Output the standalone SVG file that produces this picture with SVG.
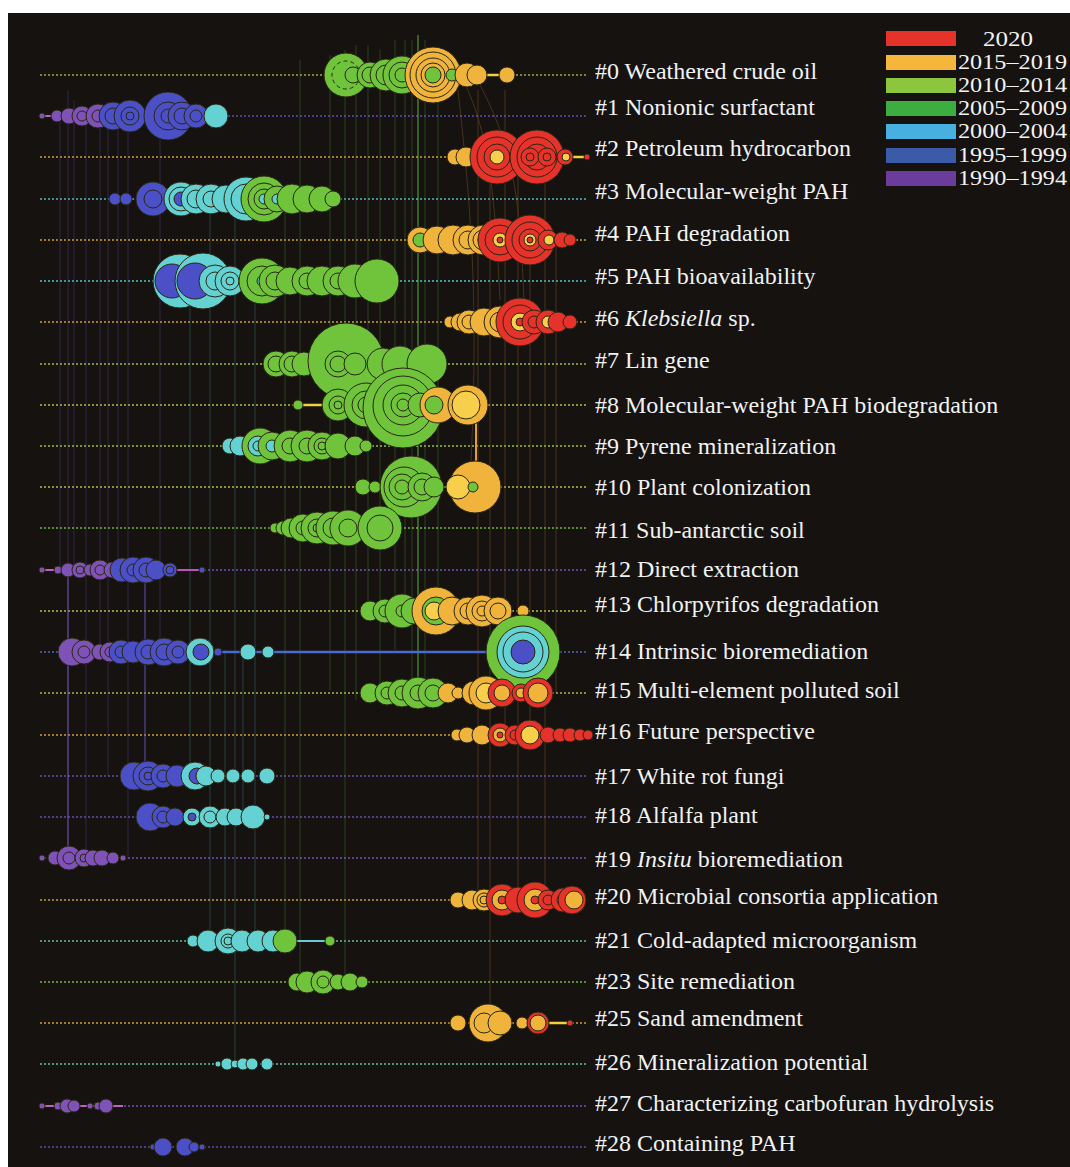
<svg xmlns="http://www.w3.org/2000/svg" width="1070" height="1167" viewBox="0 0 1070 1167">
<style>
circle{stroke:#2a2612;stroke-width:1}
.P{fill:#7e52b6}.B{fill:#4b50c6}.C{fill:#64d2d2}.G{fill:#6fc43c}.O{fill:#f0b43c}.Y{fill:#f8cf4a}.R{fill:#e5322a}
.k{fill:none}
.tl{fill:none;stroke-width:1.3;stroke-dasharray:2 2}
.lab{font-family:"Liberation Serif","Times New Roman",serif;font-size:24px;fill:#f2f2f2}
.leg{font-family:"Liberation Serif","Times New Roman",serif;font-size:20.5px;fill:#f2f2f2}
.vl{fill:none;stroke-width:1}
.it{font-style:italic}
</style>
<rect x="0" y="0" width="1070" height="1167" fill="#ffffff"/>
<rect x="8" y="13" width="1062" height="1154" fill="#151210"/>

<g id="timelines">
<line class="tl" x1="40" y1="75" x2="588" y2="75" stroke="#9aa84a"/>
<line class="tl" x1="40" y1="116" x2="588" y2="116" stroke="#5b4fb5"/>
<line class="tl" x1="40" y1="157" x2="588" y2="157" stroke="#d0a030"/>
<line class="tl" x1="40" y1="199" x2="588" y2="199" stroke="#4fb8c0"/>
<line class="tl" x1="40" y1="240" x2="588" y2="240" stroke="#d0a030"/>
<line class="tl" x1="40" y1="281" x2="588" y2="281" stroke="#4fc0d0"/>
<line class="tl" x1="40" y1="322" x2="588" y2="322" stroke="#d0a030"/>
<line class="tl" x1="40" y1="364" x2="588" y2="364" stroke="#9cc040"/>
<line class="tl" x1="40" y1="405" x2="588" y2="405" stroke="#b0c040"/>
<line class="tl" x1="40" y1="446" x2="588" y2="446" stroke="#9cc040"/>
<line class="tl" x1="40" y1="487" x2="588" y2="487" stroke="#b0c040"/>
<line class="tl" x1="40" y1="528" x2="588" y2="528" stroke="#6fb840"/>
<line class="tl" x1="40" y1="570" x2="588" y2="570" stroke="#7050b0"/>
<line class="tl" x1="40" y1="611" x2="588" y2="611" stroke="#b0c040"/>
<line class="tl" x1="40" y1="652" x2="588" y2="652" stroke="#5060c0"/>
<line class="tl" x1="40" y1="693" x2="588" y2="693" stroke="#a0c040"/>
<line class="tl" x1="40" y1="735" x2="588" y2="735" stroke="#d0a030"/>
<line class="tl" x1="40" y1="776" x2="588" y2="776" stroke="#6050b0"/>
<line class="tl" x1="40" y1="817" x2="588" y2="817" stroke="#6050b0"/>
<line class="tl" x1="40" y1="858" x2="588" y2="858" stroke="#7050b0"/>
<line class="tl" x1="40" y1="900" x2="588" y2="900" stroke="#c0a040"/>
<line class="tl" x1="40" y1="941" x2="588" y2="941" stroke="#60b8a0"/>
<line class="tl" x1="40" y1="982" x2="588" y2="982" stroke="#70b840"/>
<line class="tl" x1="40" y1="1023" x2="588" y2="1023" stroke="#d0a030"/>
<line class="tl" x1="40" y1="1064" x2="588" y2="1064" stroke="#60c0b0"/>
<line class="tl" x1="40" y1="1106" x2="588" y2="1106" stroke="#7050b0"/>
<line class="tl" x1="40" y1="1147" x2="588" y2="1147" stroke="#5050b0"/>
</g>

<g id="connectors">
<g stroke="#6a4aa8" class="vl" opacity="0.35">
<line x1="68" y1="90" x2="68" y2="858"/>
<line x1="74" y1="100" x2="74" y2="570"/>
<line x1="100" y1="110" x2="100" y2="652"/>
<line x1="118" y1="110" x2="118" y2="570"/>
<line x1="128" y1="120" x2="128" y2="860"/>
<line x1="86" y1="116" x2="86" y2="858"/>
<line x1="160" y1="130" x2="160" y2="652"/>
<line x1="60" y1="116" x2="60" y2="570"/>
<line x1="108" y1="116" x2="108" y2="776"/>
</g>
<line x1="145" y1="570" x2="145" y2="776" stroke="#6a5ac8" stroke-width="1.5" opacity="0.6"/>
<line x1="68" y1="570" x2="68" y2="858" stroke="#7a5ac0" stroke-width="1.5" opacity="0.6"/>
<g stroke="#4fa8b0" class="vl" opacity="0.3">
<line x1="210" y1="199" x2="210" y2="941"/>
<line x1="225" y1="650" x2="225" y2="941"/>
<line x1="243" y1="650" x2="243" y2="817"/>
<line x1="190" y1="281" x2="190" y2="776"/>
<line x1="255" y1="281" x2="255" y2="941"/>
<line x1="235" y1="199" x2="235" y2="1064"/>
</g>
<g stroke="#5a9a3a" class="vl" opacity="0.35">
<line x1="300" y1="60" x2="300" y2="982"/>
<line x1="330" y1="55" x2="330" y2="690"/>
<line x1="356" y1="45" x2="356" y2="700"/>
<line x1="368" y1="45" x2="368" y2="611"/>
<line x1="380" y1="50" x2="380" y2="693"/>
<line x1="395" y1="40" x2="395" y2="650"/>
<line x1="405" y1="40" x2="405" y2="611"/>
<line x1="425" y1="40" x2="425" y2="693"/>
<line x1="438" y1="50" x2="438" y2="611"/>
<line x1="285" y1="200" x2="285" y2="941"/>
<line x1="412" y1="40" x2="412" y2="690"/>
<line x1="345" y1="50" x2="345" y2="982"/>
</g>
<line x1="418" y1="35" x2="418" y2="700" stroke="#6ac040" stroke-width="1.5" opacity="0.6"/>
<g stroke="#a07030" class="vl" opacity="0.35">
<line x1="478" y1="90" x2="478" y2="900"/>
<line x1="490" y1="160" x2="490" y2="1023"/>
<line x1="505" y1="90" x2="505" y2="735"/>
<line x1="518" y1="160" x2="518" y2="900"/>
<line x1="530" y1="240" x2="530" y2="735"/>
<line x1="545" y1="160" x2="545" y2="900"/>
<line x1="556" y1="240" x2="556" y2="693"/>
<path d="M467 88 C490 140 495 200 500 300"/>
<path d="M480 85 C520 160 520 220 525 320"/>
<path d="M458 90 C470 200 480 300 470 480"/>
</g>
<line x1="476" y1="423" x2="476" y2="487" stroke="#e0a030" stroke-width="2"/>
<line x1="477" y1="75" x2="507" y2="75" stroke="#f3d040" stroke-width="2.5"/>
<line x1="570" y1="157" x2="587" y2="157" stroke="#f3d040" stroke-width="2.5"/>
<line x1="298" y1="405" x2="328" y2="405" stroke="#f3d040" stroke-width="2.5"/>
<line x1="42" y1="116" x2="56" y2="116" stroke="#c060c0" stroke-width="2"/>
<line x1="42" y1="570" x2="60" y2="570" stroke="#c060c0" stroke-width="2"/>
<line x1="176" y1="570" x2="202" y2="570" stroke="#c050c0" stroke-width="2"/>
<line x1="218" y1="652" x2="490" y2="652" stroke="#4b6ad0" stroke-width="2.5"/>
<line x1="290" y1="941" x2="330" y2="941" stroke="#6cc8d8" stroke-width="2"/>
<line x1="540" y1="1023" x2="570" y2="1023" stroke="#f3d040" stroke-width="2.5"/>
<line x1="42" y1="1106" x2="123" y2="1106" stroke="#c060c0" stroke-width="2"/>
</g>

<g id="n7" transform="translate(0,364)">
<circle class="G" cx="276" cy="0" r="13"/><circle class="k" cx="276" cy="0" r="8"/>
<circle class="G" cx="292" cy="0" r="13"/><circle class="k" cx="292" cy="0" r="8"/>
<circle class="G" cx="304" cy="0" r="12"/>
<circle class="G" cx="346" cy="-3" r="38"/>
<circle class="G" cx="338" cy="0" r="13"/><circle class="k" cx="338" cy="0" r="8"/>
<circle class="G" cx="355" cy="0" r="11"/>
<circle class="G" cx="383" cy="0" r="16"/>
<circle class="G" cx="400" cy="0" r="18"/>
<circle class="G" cx="427" cy="0" r="20"/>
</g>

<g id="n0" transform="translate(0,75)">
<circle class="G" cx="346" cy="0" r="22"/><circle class="k" cx="346" cy="0" r="14" stroke-dasharray="4 3"/>
<circle class="G" cx="353" cy="0" r="8"/>
<circle class="G" cx="370" cy="0" r="13"/><circle class="k" cx="370" cy="0" r="8"/>
<circle class="G" cx="386" cy="0" r="16"/><circle class="k" cx="386" cy="0" r="10"/>
<circle class="G" cx="402" cy="0" r="19"/><circle class="k" cx="402" cy="0" r="13"/><circle class="k" cx="402" cy="0" r="7"/>
<circle class="O" cx="433" cy="0" r="28"/><circle class="k" cx="433" cy="0" r="23"/><circle class="k" cx="433" cy="0" r="17"/><circle class="k" cx="433" cy="0" r="12"/><circle class="G" cx="433" cy="0" r="8"/>
<circle class="G" cx="452" cy="0" r="6"/>
<circle class="O" cx="467" cy="0" r="12"/>
<circle class="O" cx="477" cy="0" r="10"/>
<circle class="O" cx="507" cy="0" r="8"/>
</g>

<g id="n1" transform="translate(0,116)">
<circle class="P" cx="42" cy="0" r="3"/>
<circle class="P" cx="57" cy="0" r="6"/>
<circle class="P" cx="69" cy="0" r="8"/>
<circle class="P" cx="82" cy="0" r="10"/><circle class="k" cx="82" cy="0" r="5"/>
<circle class="P" cx="98" cy="0" r="12"/><circle class="k" cx="98" cy="0" r="6" stroke="#d060c0"/>
<circle class="B" cx="113" cy="0" r="14"/><circle class="k" cx="113" cy="0" r="8"/>
<circle class="B" cx="130" cy="0" r="16"/><circle class="k" cx="130" cy="0" r="9"/><circle class="k" cx="130" cy="0" r="4"/>
<circle class="B" cx="168" cy="0" r="24"/><circle class="k" cx="168" cy="0" r="14"/><circle class="k" cx="168" cy="0" r="7"/>
<circle class="B" cx="182" cy="0" r="14"/><circle class="k" cx="182" cy="0" r="8"/>
<circle class="B" cx="196" cy="0" r="12"/><circle class="k" cx="196" cy="0" r="6"/>
<circle class="C" cx="216" cy="0" r="12"/>
</g>

<g id="n2" transform="translate(0,157)">
<circle class="O" cx="455" cy="0" r="8"/>
<circle class="O" cx="466" cy="0" r="10"/>
<circle class="R" cx="497" cy="0" r="27"/><circle class="k" cx="497" cy="0" r="20"/><circle class="k" cx="497" cy="0" r="13"/><circle class="Y" cx="497" cy="0" r="7"/>
<circle class="R" cx="537" cy="0" r="27"/><circle class="k" cx="537" cy="0" r="20"/><circle class="k" cx="537" cy="0" r="13"/>
<circle class="R" cx="530" cy="0" r="9"/><circle class="k" cx="530" cy="0" r="4"/>
<circle class="R" cx="547" cy="0" r="9"/><circle class="k" cx="547" cy="0" r="4"/>
<circle class="R" cx="565" cy="0" r="8"/><circle class="Y" cx="566" cy="0" r="4"/>
<circle class="R" cx="587" cy="0" r="3"/>
</g>

<g id="n3" transform="translate(0,199)">
<circle class="B" cx="115" cy="0" r="6"/>
<circle class="B" cx="126" cy="0" r="6"/>
<circle class="B" cx="153" cy="0" r="17"/><circle class="k" cx="153" cy="0" r="9"/>
<circle class="C" cx="181" cy="0" r="17"/><circle class="k" cx="181" cy="0" r="12"/><circle class="B" cx="181" cy="0" r="7"/>
<circle class="C" cx="196" cy="0" r="15"/><circle class="k" cx="196" cy="0" r="9"/>
<circle class="C" cx="211" cy="0" r="15"/><circle class="k" cx="211" cy="0" r="8"/>
<circle class="C" cx="226" cy="0" r="14"/>
<circle class="C" cx="246" cy="0" r="22"/><circle class="k" cx="246" cy="0" r="15"/>
<circle class="G" cx="264" cy="0" r="23"/><circle class="k" cx="264" cy="0" r="16"/><circle class="k" cx="264" cy="0" r="10"/><circle class="C" cx="264" cy="0" r="5"/>
<circle class="G" cx="277" cy="0" r="13"/><circle class="C" cx="277" cy="0" r="5"/>
<circle class="G" cx="292" cy="0" r="15"/>
<circle class="G" cx="307" cy="0" r="14"/>
<circle class="G" cx="322" cy="0" r="13"/>
<circle class="G" cx="333" cy="0" r="8"/>
</g>

<g id="n4" transform="translate(0,240)">
<circle class="O" cx="420" cy="0" r="13"/><circle class="G" cx="420" cy="0" r="7"/>
<circle class="O" cx="437" cy="0" r="14"/>
<circle class="O" cx="453" cy="0" r="15"/>
<circle class="O" cx="468" cy="0" r="15"/><circle class="k" cx="468" cy="0" r="9"/>
<circle class="O" cx="483" cy="0" r="15"/><circle class="k" cx="483" cy="0" r="10"/><circle class="k" cx="483" cy="0" r="5"/>
<circle class="R" cx="500" cy="0" r="22"/><circle class="k" cx="500" cy="0" r="15"/><circle class="Y" cx="500" cy="0" r="7"/><circle class="R" cx="500" cy="0" r="3"/>
<circle class="R" cx="530" cy="0" r="25"/><circle class="k" cx="530" cy="0" r="18"/><circle class="k" cx="530" cy="0" r="11"/><circle class="Y" cx="530" cy="0" r="6"/><circle class="R" cx="530" cy="0" r="3"/>
<circle class="R" cx="548" cy="0" r="10"/><circle class="Y" cx="549" cy="0" r="5"/>
<circle class="R" cx="562" cy="0" r="8"/>
<circle class="R" cx="570" cy="0" r="6"/>
</g>

<g id="n5" transform="translate(0,281)">
<circle class="C" cx="180" cy="0" r="27"/><circle class="B" cx="172" cy="0" r="17"/>
<circle class="C" cx="203" cy="0" r="28"/><circle class="B" cx="195" cy="0" r="18"/>
<circle class="C" cx="215" cy="0" r="16"/><circle class="k" cx="215" cy="0" r="9"/>
<circle class="C" cx="230" cy="0" r="15"/><circle class="k" cx="230" cy="0" r="9"/><circle class="k" cx="230" cy="0" r="4"/>
<circle class="G" cx="262" cy="0" r="23"/><circle class="k" cx="262" cy="0" r="15"/><circle class="C" cx="262" cy="0" r="5"/>
<circle class="G" cx="275" cy="0" r="16"/><circle class="k" cx="275" cy="0" r="9"/>
<circle class="G" cx="290" cy="0" r="14"/>
<circle class="G" cx="307" cy="0" r="15"/><circle class="k" cx="307" cy="0" r="8"/>
<circle class="G" cx="322" cy="0" r="15"/>
<circle class="G" cx="338" cy="0" r="15"/><circle class="k" cx="338" cy="0" r="8"/>
<circle class="G" cx="355" cy="0" r="17"/>
<circle class="G" cx="377" cy="0" r="22"/>
</g>

<g id="n6" transform="translate(0,322)">
<circle class="O" cx="450" cy="0" r="6"/>
<circle class="O" cx="460" cy="0" r="9"/>
<circle class="O" cx="469" cy="0" r="12"/><circle class="k" cx="469" cy="0" r="7"/>
<circle class="O" cx="484" cy="0" r="14"/>
<circle class="O" cx="500" cy="0" r="16"/><circle class="k" cx="500" cy="0" r="10"/>
<circle class="R" cx="520" cy="0" r="24"/><circle class="k" cx="520" cy="0" r="17"/><circle class="Y" cx="520" cy="0" r="9"/><circle class="R" cx="520" cy="0" r="4"/>
<circle class="R" cx="534" cy="0" r="12"/><circle class="k" cx="534" cy="0" r="6"/>
<circle class="R" cx="548" cy="0" r="12"/><circle class="Y" cx="548" cy="0" r="6"/>
<circle class="R" cx="558" cy="0" r="10"/>
<circle class="R" cx="570" cy="0" r="7"/>
</g>

<g id="n8" transform="translate(0,405)">
<circle class="G" cx="298" cy="0" r="5"/>
<circle class="G" cx="338" cy="0" r="16"/><circle class="k" cx="338" cy="0" r="9"/><circle class="k" cx="338" cy="0" r="4"/>
<circle class="G" cx="366" cy="0" r="22"/><circle class="k" cx="366" cy="0" r="14"/><circle class="k" cx="366" cy="0" r="8"/>
<circle class="G" cx="403" cy="3" r="40"/><circle class="k" cx="403" cy="1" r="30"/><circle class="k" cx="403" cy="0" r="20"/><circle class="k" cx="403" cy="0" r="12"/><circle class="k" cx="403" cy="0" r="6"/>
<circle class="G" cx="420" cy="0" r="12"/>
<circle class="O" cx="438" cy="0" r="18"/><circle class="G" cx="434" cy="0" r="9"/>
<circle class="O" cx="468" cy="0" r="20"/><circle class="Y" cx="466" cy="0" r="14"/>
</g>

<g id="n9" transform="translate(0,446)">
<circle class="C" cx="230" cy="0" r="8"/>
<circle class="C" cx="240" cy="0" r="10"/>
<circle class="G" cx="260" cy="0" r="18"/><circle class="C" cx="258" cy="0" r="10"/><circle class="k" cx="258" cy="0" r="5"/>
<circle class="G" cx="272" cy="0" r="14"/><circle class="C" cx="272" cy="0" r="6"/>
<circle class="G" cx="290" cy="0" r="16"/><circle class="k" cx="290" cy="0" r="8"/>
<circle class="G" cx="307" cy="0" r="16"/><circle class="k" cx="307" cy="0" r="8"/>
<circle class="G" cx="322" cy="0" r="14"/><circle class="k" cx="322" cy="0" r="8"/><circle class="k" cx="322" cy="0" r="4"/>
<circle class="G" cx="338" cy="0" r="13"/>
<circle class="G" cx="355" cy="0" r="10"/>
<circle class="G" cx="366" cy="0" r="6"/>
</g>

<g id="n10" transform="translate(0,487)">
<circle class="G" cx="363" cy="0" r="8"/>
<circle class="G" cx="375" cy="0" r="6"/>
<circle class="G" cx="411" cy="0" r="31"/><circle class="k" cx="404" cy="0" r="20"/><circle class="k" cx="402" cy="0" r="13"/><circle class="k" cx="402" cy="0" r="7"/>
<circle class="G" cx="422" cy="0" r="14"/><circle class="k" cx="422" cy="0" r="8"/>
<circle class="G" cx="434" cy="0" r="10"/>
<circle class="O" cx="475" cy="0" r="26"/>
<circle class="Y" cx="458" cy="0" r="12" stroke="none"/>
<circle class="G" cx="473" cy="0" r="5" stroke="none"/>
</g>

<g id="n11" transform="translate(0,528)">
<circle class="G" cx="275" cy="0" r="5"/>
<circle class="G" cx="283" cy="0" r="7"/>
<circle class="G" cx="291" cy="0" r="10"/>
<circle class="G" cx="303" cy="0" r="14"/><circle class="k" cx="303" cy="0" r="7"/>
<circle class="G" cx="317" cy="0" r="16"/><circle class="k" cx="317" cy="0" r="9"/><circle class="k" cx="317" cy="0" r="4"/>
<circle class="G" cx="333" cy="0" r="17"/><circle class="k" cx="333" cy="0" r="10"/>
<circle class="G" cx="348" cy="0" r="18"/><circle class="k" cx="348" cy="0" r="9"/>
<circle class="G" cx="380" cy="0" r="22"/><circle class="k" cx="380" cy="0" r="13"/>
</g>

<g id="n12" transform="translate(0,570)">
<circle class="P" cx="42" cy="0" r="3"/>
<circle class="P" cx="58" cy="0" r="4"/>
<circle class="P" cx="68" cy="0" r="7"/>
<circle class="P" cx="80" cy="0" r="8"/><circle class="k" cx="80" cy="0" r="4"/>
<circle class="P" cx="90" cy="0" r="6"/>
<circle class="P" cx="100" cy="0" r="10"/><circle class="k" cx="100" cy="0" r="5"/>
<circle class="P" cx="112" cy="0" r="8"/>
<circle class="B" cx="122" cy="0" r="12"/>
<circle class="B" cx="133" cy="0" r="13"/><circle class="k" cx="133" cy="0" r="6"/>
<circle class="B" cx="146" cy="0" r="13"/><circle class="k" cx="146" cy="0" r="7"/>
<circle class="B" cx="156" cy="0" r="10"/>
<circle class="B" cx="170" cy="0" r="7"/><circle class="k" cx="170" cy="0" r="4"/>
<circle class="B" cx="202" cy="0" r="3"/>
</g>

<g id="n13" transform="translate(0,611)">
<circle class="G" cx="370" cy="0" r="10"/>
<circle class="G" cx="385" cy="0" r="12"/><circle class="k" cx="385" cy="0" r="6"/>
<circle class="G" cx="402" cy="0" r="17"/><circle class="k" cx="402" cy="0" r="6"/>
<circle class="G" cx="414" cy="0" r="13"/>
<circle class="O" cx="436" cy="0" r="24"/><circle class="G" cx="436" cy="0" r="14"/><circle class="Y" cx="434" cy="0" r="9"/>
<circle class="O" cx="452" cy="0" r="14"/>
<circle class="O" cx="468" cy="0" r="14"/><circle class="k" cx="468" cy="0" r="8"/>
<circle class="O" cx="482" cy="0" r="16"/><circle class="k" cx="482" cy="0" r="10"/><circle class="k" cx="482" cy="0" r="5"/>
<circle class="O" cx="498" cy="0" r="14"/><circle class="k" cx="498" cy="0" r="8"/>
<circle class="O" cx="523" cy="0" r="6"/>
</g>

<g id="n14" transform="translate(0,652)">
<circle class="P" cx="72" cy="0" r="14"/>
<circle class="P" cx="84" cy="0" r="12"/><circle class="k" cx="84" cy="0" r="6"/>
<circle class="P" cx="100" cy="0" r="8"/>
<circle class="P" cx="110" cy="0" r="10"/><circle class="k" cx="110" cy="0" r="5"/>
<circle class="B" cx="121" cy="0" r="12"/><circle class="k" cx="121" cy="0" r="6"/>
<circle class="B" cx="133" cy="0" r="11"/>
<circle class="B" cx="148" cy="0" r="13"/><circle class="k" cx="148" cy="0" r="7"/>
<circle class="B" cx="164" cy="0" r="14"/><circle class="k" cx="164" cy="0" r="8"/>
<circle class="B" cx="178" cy="0" r="12"/><circle class="k" cx="178" cy="0" r="6"/>
<circle class="C" cx="200" cy="0" r="14"/><circle class="B" cx="201" cy="0" r="8"/>
<circle class="B" cx="218" cy="0" r="4"/>
<circle class="C" cx="248" cy="0" r="8"/>
<circle class="C" cx="268" cy="0" r="6"/>
<circle class="G" cx="523" cy="0" r="37"/><circle class="C" cx="523" cy="0" r="26"/><circle class="k" cx="523" cy="0" r="20"/><circle class="B" cx="523" cy="0" r="12"/>
</g>

<g id="n15" transform="translate(0,693)">
<circle class="G" cx="370" cy="0" r="10"/>
<circle class="G" cx="387" cy="0" r="12"/><circle class="k" cx="387" cy="0" r="6"/>
<circle class="G" cx="402" cy="0" r="14"/><circle class="k" cx="402" cy="0" r="7"/>
<circle class="G" cx="418" cy="0" r="16"/><circle class="k" cx="418" cy="0" r="8"/>
<circle class="G" cx="433" cy="0" r="15"/><circle class="k" cx="433" cy="0" r="8"/>
<circle class="O" cx="448" cy="0" r="10"/>
<circle class="O" cx="458" cy="0" r="6"/>
<circle class="O" cx="474" cy="0" r="12"/>
<circle class="O" cx="486" cy="0" r="17"/><circle class="Y" cx="486" cy="0" r="10"/>
<circle class="R" cx="502" cy="0" r="14"/><circle class="O" cx="502" cy="0" r="8"/>
<circle class="R" cx="521" cy="0" r="9"/><circle class="O" cx="521" cy="0" r="5"/>
<circle class="R" cx="538" cy="0" r="15"/><circle class="O" cx="538" cy="0" r="10"/>
</g>

<g id="n16" transform="translate(0,735)">
<circle class="O" cx="457" cy="0" r="6"/>
<circle class="O" cx="467" cy="0" r="8"/>
<circle class="O" cx="482" cy="0" r="10"/>
<circle class="R" cx="500" cy="0" r="12"/><circle class="O" cx="500" cy="0" r="7"/><circle class="R" cx="500" cy="0" r="3"/>
<circle class="R" cx="515" cy="0" r="10"/><circle class="k" cx="515" cy="0" r="5"/>
<circle class="R" cx="530" cy="0" r="15"/><circle class="Y" cx="530" cy="0" r="9"/>
<circle class="R" cx="548" cy="0" r="8"/>
<circle class="R" cx="560" cy="0" r="7"/>
<circle class="R" cx="570" cy="0" r="7"/>
<circle class="R" cx="580" cy="0" r="6"/>
<circle class="R" cx="588" cy="0" r="5"/>
</g>

<g id="n17" transform="translate(0,776)">
<circle class="B" cx="134" cy="0" r="14"/>
<circle class="B" cx="148" cy="0" r="15"/><circle class="k" cx="148" cy="0" r="9"/><circle class="k" cx="148" cy="0" r="4"/>
<circle class="B" cx="163" cy="0" r="12"/><circle class="k" cx="163" cy="0" r="6"/>
<circle class="B" cx="177" cy="0" r="11"/>
<circle class="C" cx="195" cy="0" r="14"/><circle class="B" cx="197" cy="0" r="8"/>
<circle class="C" cx="206" cy="0" r="10"/>
<circle class="C" cx="218" cy="0" r="7"/>
<circle class="C" cx="233" cy="0" r="7"/>
<circle class="C" cx="248" cy="0" r="7"/>
<circle class="C" cx="267" cy="0" r="8"/>
</g>

<g id="n18" transform="translate(0,817)">
<circle class="B" cx="150" cy="0" r="14"/>
<circle class="B" cx="163" cy="0" r="11"/><circle class="k" cx="163" cy="0" r="6"/>
<circle class="B" cx="175" cy="0" r="9"/>
<circle class="C" cx="192" cy="0" r="9"/><circle class="B" cx="192" cy="0" r="4"/>
<circle class="C" cx="210" cy="0" r="11"/><circle class="k" cx="210" cy="0" r="6"/>
<circle class="C" cx="225" cy="0" r="9"/>
<circle class="C" cx="236" cy="0" r="9"/>
<circle class="C" cx="253" cy="0" r="12"/>
<circle class="C" cx="267" cy="0" r="3"/>
</g>

<g id="n19" transform="translate(0,858)">
<circle class="P" cx="42" cy="0" r="3"/>
<circle class="P" cx="55" cy="0" r="7"/>
<circle class="P" cx="69" cy="0" r="12"/><circle class="k" cx="69" cy="0" r="6"/>
<circle class="P" cx="84" cy="0" r="9"/><circle class="k" cx="84" cy="0" r="4"/>
<circle class="P" cx="93" cy="0" r="8"/>
<circle class="P" cx="102" cy="0" r="8"/>
<circle class="P" cx="113" cy="0" r="6"/>
<circle class="P" cx="123" cy="0" r="3"/>
</g>

<g id="n20" transform="translate(0,900)">
<circle class="O" cx="458" cy="0" r="8"/>
<circle class="O" cx="472" cy="0" r="10"/>
<circle class="O" cx="484" cy="0" r="11"/><circle class="k" cx="484" cy="0" r="7"/><circle class="k" cx="484" cy="0" r="4"/>
<circle class="R" cx="502" cy="0" r="16"/><circle class="O" cx="502" cy="0" r="10"/><circle class="R" cx="502" cy="0" r="4"/>
<circle class="R" cx="518" cy="0" r="13"/>
<circle class="R" cx="535" cy="0" r="18"/><circle class="O" cx="535" cy="0" r="11"/><circle class="R" cx="535" cy="0" r="4"/>
<circle class="R" cx="548" cy="0" r="10"/><circle class="k" cx="548" cy="0" r="5"/>
<circle class="R" cx="563" cy="0" r="12"/><circle class="O" cx="563" cy="0" r="6"/>
<circle class="R" cx="572" cy="0" r="14"/><circle class="O" cx="574" cy="0" r="9"/>
</g>

<g id="n21" transform="translate(0,941)">
<circle class="C" cx="193" cy="0" r="6"/>
<circle class="C" cx="208" cy="0" r="11"/>
<circle class="C" cx="228" cy="0" r="13"/><circle class="k" cx="228" cy="0" r="7"/><circle class="k" cx="228" cy="0" r="4"/>
<circle class="C" cx="242" cy="0" r="11"/>
<circle class="C" cx="258" cy="0" r="11"/>
<circle class="C" cx="273" cy="0" r="11"/>
<circle class="G" cx="285" cy="0" r="12"/>
<circle class="G" cx="330" cy="0" r="5"/>
</g>

<g id="n23" transform="translate(0,982)">
<circle class="G" cx="297" cy="0" r="9"/>
<circle class="G" cx="307" cy="0" r="11"/>
<circle class="G" cx="323" cy="0" r="12"/><circle class="k" cx="323" cy="0" r="6"/>
<circle class="G" cx="338" cy="0" r="8"/>
<circle class="G" cx="350" cy="0" r="9"/>
<circle class="G" cx="362" cy="0" r="6"/>
</g>

<g id="n25" transform="translate(0,1023)">
<circle class="O" cx="458" cy="0" r="8"/>
<circle class="O" cx="488" cy="0" r="19"/><circle class="k" cx="484" cy="0" r="10"/>
<circle class="O" cx="500" cy="0" r="12"/>
<circle class="O" cx="522" cy="0" r="6"/>
<circle class="R" cx="538" cy="0" r="11"/><circle class="O" cx="538" cy="0" r="8"/>
<circle class="R" cx="570" cy="0" r="3"/>
</g>

<g id="n26" transform="translate(0,1064)">
<circle class="C" cx="218" cy="0" r="3"/>
<circle class="C" cx="227" cy="0" r="6"/>
<circle class="C" cx="235" cy="0" r="4"/>
<circle class="C" cx="243" cy="0" r="6"/>
<circle class="C" cx="252" cy="0" r="6"/>
<circle class="C" cx="267" cy="0" r="6"/>
</g>

<g id="n27" transform="translate(0,1106)">
<circle class="P" cx="42" cy="0" r="3"/>
<circle class="P" cx="58" cy="0" r="4"/>
<circle class="P" cx="67" cy="0" r="7"/>
<circle class="P" cx="74" cy="0" r="6"/>
<circle class="P" cx="90" cy="0" r="3"/>
<circle class="P" cx="98" cy="0" r="4"/>
<circle class="P" cx="106" cy="0" r="7"/>
</g>

<g id="n28" transform="translate(0,1147)">
<circle class="B" cx="153" cy="0" r="3"/>
<circle class="B" cx="163" cy="0" r="9"/>
<circle class="B" cx="185" cy="0" r="9"/>
<circle class="B" cx="194" cy="0" r="5"/>
<circle class="B" cx="202" cy="0" r="3"/>
</g>

<g id="labels" class="lab">
<text x="595" y="79">#0 Weathered crude oil</text>
<text x="595" y="115">#1 Nonionic surfactant</text>
<text x="595" y="156">#2 Petroleum hydrocarbon</text>
<text x="595" y="199">#3 Molecular-weight PAH</text>
<text x="595" y="241">#4 PAH degradation</text>
<text x="595" y="284">#5 PAH bioavailability</text>
<text x="595" y="326">#6 <tspan class="it">Klebsiella</tspan> sp.</text>
<text x="595" y="368">#7 Lin gene</text>
<text x="595" y="413">#8 Molecular-weight PAH biodegradation</text>
<text x="595" y="454">#9 Pyrene mineralization</text>
<text x="595" y="495">#10 Plant colonization</text>
<text x="595" y="538">#11 Sub-antarctic soil</text>
<text x="595" y="577">#12 Direct extraction</text>
<text x="595" y="612">#13 Chlorpyrifos degradation</text>
<text x="595" y="659">#14 Intrinsic bioremediation</text>
<text x="595" y="698">#15 Multi-element polluted soil</text>
<text x="595" y="739">#16 Future perspective</text>
<text x="595" y="784">#17 White rot fungi</text>
<text x="595" y="823">#18 Alfalfa plant</text>
<text x="595" y="867">#19 <tspan class="it">Insitu</tspan> bioremediation</text>
<text x="595" y="904">#20 Microbial consortia application</text>
<text x="595" y="948">#21 Cold-adapted microorganism</text>
<text x="595" y="989">#23 Site remediation</text>
<text x="595" y="1026">#25 Sand amendment</text>
<text x="595" y="1070">#26 Mineralization potential</text>
<text x="595" y="1111">#27 Characterizing carbofuran hydrolysis</text>
<text x="595" y="1151">#28 Containing PAH</text>
</g>

<g id="legend">
<rect x="886" y="31" width="70" height="15" fill="#e6332a"/>
<rect x="886" y="55" width="70" height="15" fill="#f6b53b"/>
<rect x="886" y="78" width="70" height="15" fill="#8cc63f"/>
<rect x="886" y="101" width="70" height="15" fill="#3cae3f"/>
<rect x="886" y="124" width="70" height="15" fill="#48b0e0"/>
<rect x="886" y="148" width="70" height="15" fill="#3b5ba9"/>
<rect x="886" y="171" width="70" height="15" fill="#6b3c9b"/>
<g class="leg">
<text x="983" y="46" textLength="50" lengthAdjust="spacingAndGlyphs">2020</text>
<text x="958" y="69" textLength="109" lengthAdjust="spacingAndGlyphs">2015–2019</text>
<text x="958" y="92" textLength="109" lengthAdjust="spacingAndGlyphs">2010–2014</text>
<text x="958" y="115" textLength="109" lengthAdjust="spacingAndGlyphs">2005–2009</text>
<text x="958" y="138" textLength="109" lengthAdjust="spacingAndGlyphs">2000–2004</text>
<text x="958" y="162" textLength="109" lengthAdjust="spacingAndGlyphs">1995–1999</text>
<text x="958" y="185" textLength="109" lengthAdjust="spacingAndGlyphs">1990–1994</text>
</g>
</g>
</svg>
